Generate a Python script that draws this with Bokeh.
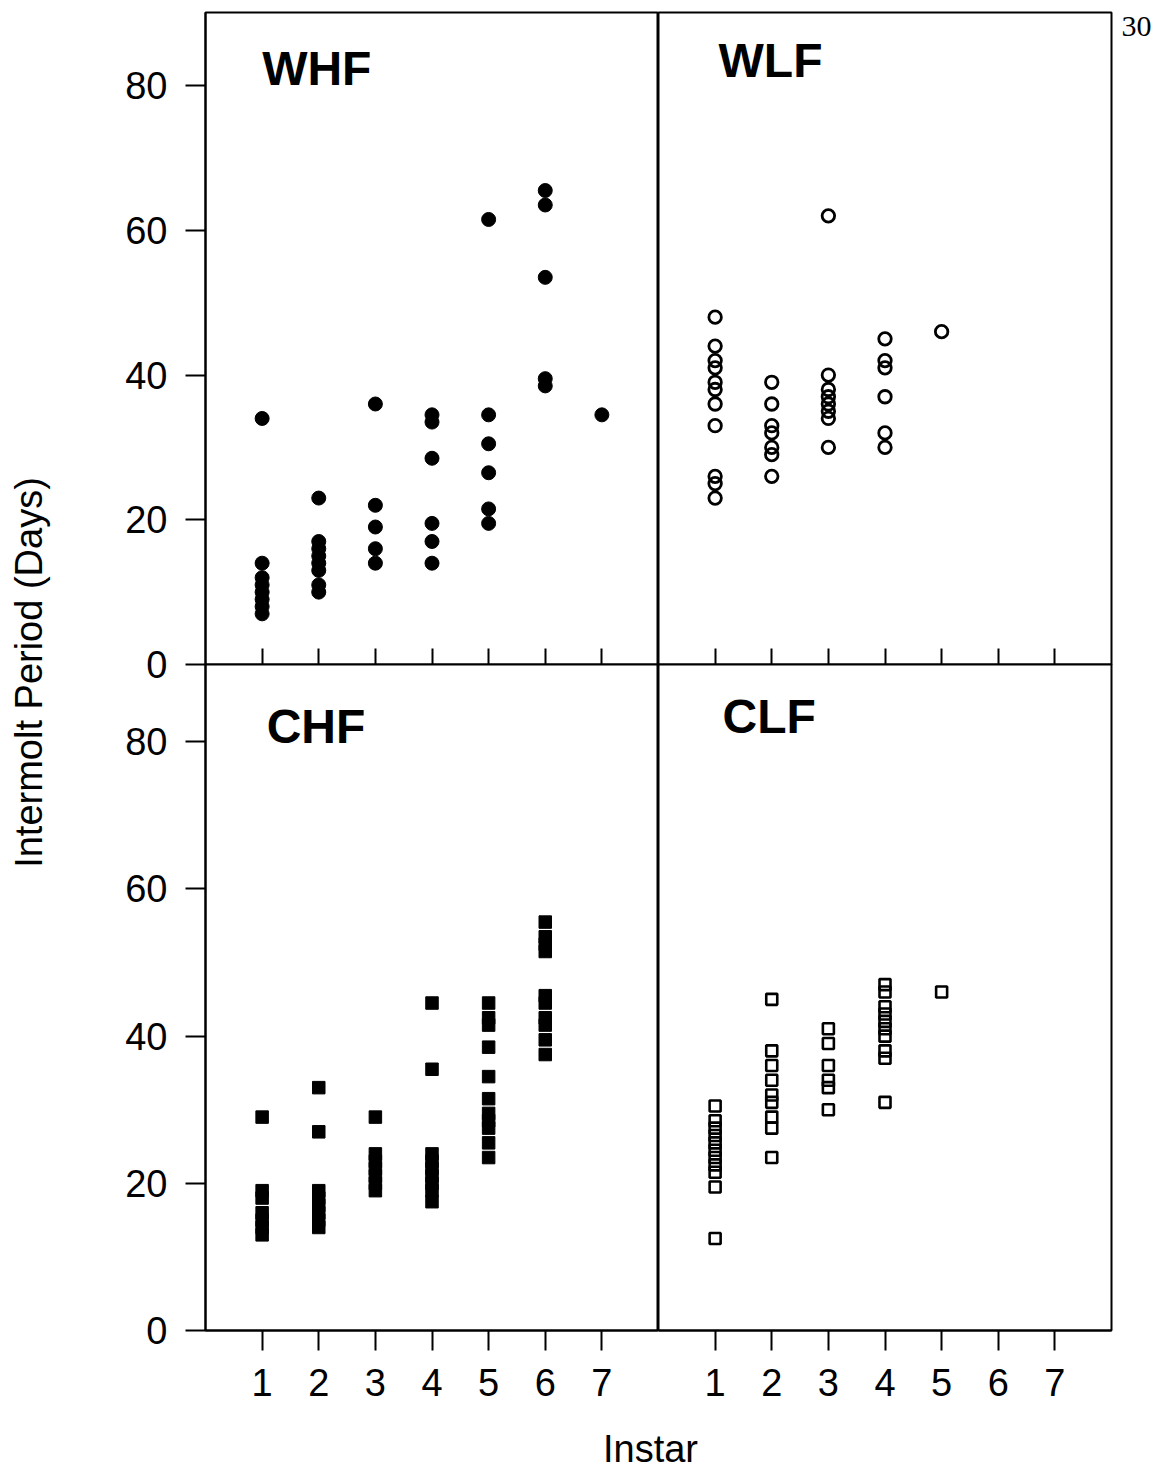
from bokeh.plotting import figure
from bokeh.models import Range1d, FixedTicker, LinearAxis, Label
from bokeh.layouts import row, column
from bokeh.embed import file_html
from bokeh.resources import INLINE

# ---- data: intermolt period (days) for each instar ----
instar_ticks = [1, 2, 3, 4, 5, 6, 7]
day_ticks = [0, 20, 40, 60, 80]

whf_instar = [1, 1, 1, 1, 1, 1, 1, 1,
              2, 2, 2, 2, 2, 2, 2, 2,
              3, 3, 3, 3, 3,
              4, 4, 4, 4, 4, 4,
              5, 5, 5, 5, 5, 5,
              6, 6, 6, 6, 6,
              7]
whf_days = [34, 14, 12, 11, 10, 9, 8, 7,
            23, 17, 16, 15, 14, 13, 11, 10,
            36, 22, 19, 16, 14,
            34.5, 33.5, 28.5, 19.5, 17, 14,
            61.5, 34.5, 30.5, 26.5, 21.5, 19.5,
            65.5, 63.5, 53.5, 39.5, 38.5,
            34.5]

wlf_instar = [1, 1, 1, 1, 1, 1, 1, 1, 1, 1, 1,
              2, 2, 2, 2, 2, 2, 2,
              3, 3, 3, 3, 3, 3, 3, 3,
              4, 4, 4, 4, 4, 4,
              5]
wlf_days = [48, 44, 42, 41, 39, 38, 36, 33, 26, 25, 23,
            39, 36, 33, 32, 30, 29, 26,
            62, 40, 38, 37, 36, 35, 34, 30,
            45, 42, 41, 37, 32, 30,
            46]

chf_instar = [1, 1, 1, 1, 1, 1, 1,
              2, 2, 2, 2, 2, 2, 2, 2,
              3, 3, 3, 3, 3, 3, 3,
              4, 4, 4, 4, 4, 4, 4, 4, 4,
              5, 5, 5, 5, 5, 5, 5, 5, 5, 5, 5,
              6, 6, 6, 6, 6, 6, 6, 6, 6, 6]
chf_days = [29, 19, 18, 16, 15, 14, 13,
            33, 27, 19, 18, 17, 16, 15, 14,
            29, 24, 23, 22, 21, 20, 19,
            44.5, 35.5, 24, 23, 22, 21, 20, 19, 17.5,
            44.5, 42.5, 41.5, 38.5, 34.5, 31.5, 29.5, 28.5, 27.5, 25.5, 23.5,
            55.5, 53.5, 52.5, 51.5, 45.5, 44.5, 42.5, 41.5, 39.5, 37.5]

clf_instar = [1, 1, 1, 1, 1, 1, 1, 1, 1, 1, 1,
              2, 2, 2, 2, 2, 2, 2, 2, 2,
              3, 3, 3, 3, 3, 3,
              4, 4, 4, 4, 4, 4, 4, 4, 4, 4,
              5]
clf_days = [30.5, 28.5, 27.5, 26.5, 25.5, 24.5, 23.5, 22.5, 21.5, 19.5, 12.5,
            45, 38, 36, 34, 32, 31, 29, 27.5, 23.5,
            41, 39, 36, 34, 33, 30,
            47, 46, 44, 43, 42, 41, 40, 38, 37, 31,
            46]

FONT = "Liberation Sans"
OVERLAP = 30  # top-row canvases reach this far under the bottom row


def make_panel(width, height, y_end, left, top):
    p = figure(width=width, height=height, output_backend="svg", toolbar_location=None,
               x_range=Range1d(0, 8), y_range=Range1d(0, y_end),
               x_axis_location=None, y_axis_location=None,
               min_border=0,
               min_border_left=105 if left else 0,
               min_border_right=0 if left else 53,
               min_border_top=12 if top else 0,
               min_border_bottom=OVERLAP if top else 84)
    p.xgrid.visible = False
    p.ygrid.visible = False
    p.outline_line_color = "black"
    p.outline_line_width = 2
    p.background_fill_color = "white"
    p.border_fill_color = "white" if top else None

    if top:
        # inward tick marks only, no labels
        xa = LinearAxis(ticker=FixedTicker(ticks=[], minor_ticks=instar_ticks))
        xa.minor_tick_in = 16
        xa.minor_tick_out = 0
        xa.minor_tick_line_width = 2
        xa.minor_tick_line_color = "black"
        xa.major_label_standoff = 0
    else:
        xa = LinearAxis(ticker=FixedTicker(ticks=instar_ticks))
        xa.minor_tick_line_color = None
        xa.major_tick_line_width = 2
        xa.major_tick_in = 0
        xa.major_tick_out = 20
        xa.major_label_standoff = 18
        xa.major_label_text_font = FONT
        xa.major_label_text_font_size = "38px"
        xa.major_label_text_color = "black"
    xa.axis_line_width = 2
    p.add_layout(xa, "below")

    if left:
        ya = LinearAxis(ticker=FixedTicker(ticks=day_ticks))
        ya.axis_line_width = 2
        ya.major_tick_line_width = 2
        ya.minor_tick_line_color = None
        ya.major_tick_in = 0
        ya.major_tick_out = 20
        ya.major_label_standoff = 18
        ya.major_label_text_font = FONT
        ya.major_label_text_font_size = "38px"
        ya.major_label_text_color = "black"
        p.add_layout(ya, "left")
    return p


def add_title(p, text, x, y):
    p.add_layout(Label(x=x, y=y, text=text, text_font=FONT, text_font_size="48px",
                       text_font_style="bold", text_align="left",
                       text_baseline="middle", text_color="black"))


TOP_END = 90.1
BOT_END = 90.5

whf = make_panel(558, 664 + OVERLAP, TOP_END, left=True, top=True)
whf.scatter(whf_instar, whf_days, marker="circle", size=14,
            fill_color="black", line_color="black")
add_title(whf, "WHF", 1.0, 82.3)

wlf = make_panel(506, 664 + OVERLAP, TOP_END, left=False, top=True)
wlf.scatter(wlf_instar, wlf_days, marker="circle", size=12.5,
            fill_color=None, line_color="black", line_width=2.8)
add_title(wlf, "WLF", 1.06, 83.5)

# page number in the upper right margin
page_no = LinearAxis(ticker=FixedTicker(ticks=[88.2]), major_label_overrides={88.2: "30"})
page_no.axis_line_color = None
page_no.major_tick_line_color = None
page_no.minor_tick_line_color = None
page_no.major_label_standoff = 4
page_no.major_label_text_font = "Liberation Serif"
page_no.major_label_text_font_size = "30px"
page_no.major_label_text_color = "black"
wlf.add_layout(page_no, "right")

chf = make_panel(558, 750, BOT_END, left=True, top=False)
chf.scatter(chf_instar, chf_days, marker="square", size=12.5,
            fill_color="black", line_color="black")
add_title(chf, "CHF", 1.08, 82.1)

clf = make_panel(506, 750, BOT_END, left=False, top=False)
clf.scatter(clf_instar, clf_days, marker="square", size=11,
            fill_color=None, line_color="black", line_width=2.6)
add_title(clf, "CLF", 1.13, 83.4)


def blank(width, height):
    f = figure(width=width, height=height, output_backend="svg", toolbar_location=None,
               x_range=Range1d(0, width), y_range=Range1d(0, height),
               x_axis_location=None, y_axis_location=None, min_border=0)
    f.xgrid.visible = False
    f.ygrid.visible = False
    f.outline_line_color = None
    f.background_fill_color = "white"
    f.border_fill_color = "white"
    return f


ylab = blank(100, 1469)
ylab.add_layout(Label(x=28, y=1469 - 672, text="Intermolt Period (Days)", text_font=FONT,
                      text_font_size="38px", angle=90, angle_units="deg",
                      text_align="center", text_baseline="middle", text_color="black"))

xlab = blank(1064, 55)
xlab.add_layout(Label(x=550, y=21, text="Instar", text_font=FONT, text_font_size="38px",
                      text_align="center", text_baseline="middle", text_color="black"))

top_row = row(whf, wlf)
bottom_row = row(chf, clf, margin=(-OVERLAP, 0, 0, 0))
layout = row(ylab, column(top_row, bottom_row, xlab))

with open("out.html", "w") as fh:
    fh.write(file_html(layout, INLINE, title="Intermolt period by instar"))
